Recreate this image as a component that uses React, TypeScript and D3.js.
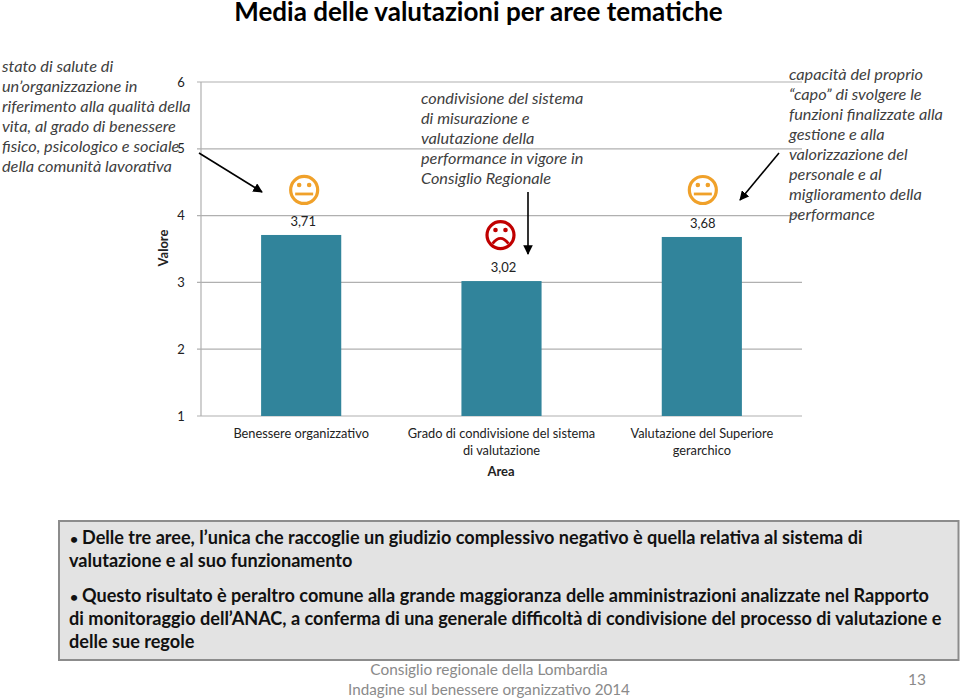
import React from "react";
import * as d3 from "d3";

const FONT = "Lato, Carlito, Calibri, sans-serif";
const title = "Media delle valutazioni per aree tematiche";
const categories = ["Benessere organizzativo", "Grado di condivisione del sistema di valutazione", "Valutazione del Superiore gerarchico"];
const categoryLines = [["Benessere organizzativo"], ["Grado di condivisione del sistema", "di valutazione"], ["Valutazione del Superiore", "gerarchico"]];
const values = [3.71, 3.02, 3.68];
const valueLabels = ["3,71", "3,02", "3,68"];
const faces = ["neutral", "sad", "neutral"];
const yTicks = [1, 2, 3, 4, 5, 6];
const yTitle = "Valore";
const xTitle = "Area";

const note1 = ["stato di salute di", "un\u2019organizzazione in", "riferimento alla qualità della", "vita, al grado di benessere", "fisico, psicologico e sociale", "della comunità lavorativa"];
const note2 = ["condivisione del sistema", "di misurazione e", "valutazione della", "performance in vigore in", "Consiglio Regionale"];
const note3 = ["capacità del proprio", "\u201Ccapo\u201D di svolgere le", "funzioni finalizzate alla", "gestione e alla", "valorizzazione del", "personale e al", "miglioramento della", "performance"];
const summary: [string, string, number][] = [
  ["\u2022", "Delle tre aree, l\u2019unica che raccoglie un giudizio complessivo negativo è quella relativa al sistema di", 544],
  ["", "valutazione e al suo funzionamento", 567],
  ["\u2022", "Questo risultato è peraltro comune alla grande maggioranza delle amministrazioni analizzate nel Rapporto", 602],
  ["", "di monitoraggio dell\u2019ANAC, a conferma di una generale difficoltà di condivisione del processo di valutazione e", 625],
  ["", "delle sue regole", 648],
];
const footer = ["Consiglio regionale della Lombardia", "Indagine sul benessere organizzativo 2014"];
const pageNumber = "13";

const y = d3.scaleLinear().domain([1, 6]).range([416, 82]);
const x = d3.scaleBand<string>().domain(categories).range([201, 802]).paddingInner(0.6).paddingOuter(0.3);
const faceDx = [3, -1, 1];
const faceDy = [45, 46, 47];
const labelDx = [2, 2, 1];

function Face({ cx, cy, kind }: { cx: number; cy: number; kind: string }) {
  const color = kind === "sad" ? "#c00000" : "#f0a12a";
  const mouth = kind === "sad"
    ? `M${cx - 8},${cy + 8.5} Q${cx},${cy - 2} ${cx + 8},${cy + 8.5}`
    : `M${cx - 9},${cy + 4} H${cx + 9}`;
  return (
    <g>
      <circle cx={cx} cy={cy} r={13.5} fill="none" stroke={color} strokeWidth={3.2} />
      <circle cx={cx - 5} cy={cy - 5} r={2.3} fill={color} />
      <circle cx={cx + 5} cy={cy - 5} r={2.3} fill={color} />
      <path d={mouth} fill="none" stroke={color} strokeWidth={2.8} />
    </g>
  );
}

function Note({ lines, x0, y0 }: { lines: string[]; x0: number; y0: number }) {
  return (
    <text fontFamily={FONT} fontStyle="italic" fontSize={16.3} fill="#404040">
      {lines.map((l, i) => (
        <tspan key={i} x={x0} y={y0 + i * 20}>{l}</tspan>
      ))}
    </text>
  );
}

export default function App() {
  return (
    <svg width={960} height={700} style={{ position: "absolute", left: 0, top: 0, background: "#fff" }} fontFamily={FONT}>
      <defs>
        <marker id="arr" viewBox="0 0 10 10" refX={9} refY={5} markerWidth={6} markerHeight={6} orient="auto" markerUnits="strokeWidth">
          <path d="M0,0 L10,5 L0,10 Z" fill="#000" />
        </marker>
      </defs>
      <text x={478.5} y={20.5} textAnchor="middle" fontSize={26} fontWeight={700} fill="#000">{title}</text>

      {yTicks.map((t) => (
        <g key={t}>
          <line x1={197} x2={802} y1={y(t)} y2={y(t)} stroke="#b0b0b0" strokeWidth={1.2} />
          <text x={181} y={y(t) + 4.5} textAnchor="middle" fontSize={13} fill="#222">{t}</text>
        </g>
      ))}
      <line x1={201} x2={201} y1={y(6)} y2={y(1)} stroke="#b0b0b0" strokeWidth={1.2} />
      <text transform="translate(168,248) rotate(-90)" textAnchor="middle" fontSize={13} fontWeight={700} fill="#222">{yTitle}</text>

      {categories.map((c, i) => {
        const bx = x(c) as number;
        const cx = bx + x.bandwidth() / 2;
        return (
          <g key={c}>
            <rect x={bx} y={y(values[i])} width={x.bandwidth()} height={y(1) - y(values[i])} fill="#31849b" />
            <text x={cx + labelDx[i]} y={y(values[i]) - 9} textAnchor="middle" fontSize={13} fill="#222">{valueLabels[i]}</text>
            <Face cx={cx + faceDx[i]} cy={y(values[i]) - faceDy[i]} kind={faces[i]} />
            {categoryLines[i].map((l, j) => (
              <text key={j} x={cx} y={438 + j * 17} textAnchor="middle" fontSize={12.8} fill="#222">{l}</text>
            ))}
          </g>
        );
      })}
      <text x={501} y={476} textAnchor="middle" fontSize={13} fontWeight={700} fill="#222">{xTitle}</text>

      <Note lines={note1} x0={2} y0={72} />
      <Note lines={note2} x0={421} y0={104} />
      <Note lines={note3} x0={789} y0={80} />

      <line x1={199} y1={153} x2={262} y2={192} stroke="#000" strokeWidth={1.6} markerEnd="url(#arr)" />
      <line x1={528} y1={192} x2={528} y2={254} stroke="#000" strokeWidth={1.6} markerEnd="url(#arr)" />
      <line x1={779} y1={153} x2={740} y2={200} stroke="#000" strokeWidth={1.6} markerEnd="url(#arr)" />

      <rect x={59} y={521} width={899.5} height={139} fill="#e3e3e3" stroke="#8c8c8c" strokeWidth={2} />
      {summary.map(([b, s, sy], i) => (
        <g key={i} fontSize={18.1} fontWeight={700} fill="#111">
          {b && <text x={70} y={sy} fontSize={14}>{b}</text>}
          <text x={b ? 82 : 69} y={sy}>{s}</text>
        </g>
      ))}

      <text x={489} y={675} textAnchor="middle" fontSize={15.4} fill="#8a8a8a">{footer[0]}</text>
      <text x={489} y={695} textAnchor="middle" fontSize={15.2} fill="#8a8a8a">{footer[1]}</text>
      <text x={917} y={685} textAnchor="middle" fontSize={15.5} fill="#8a8a8a">{pageNumber}</text>
    </svg>
  );
}
